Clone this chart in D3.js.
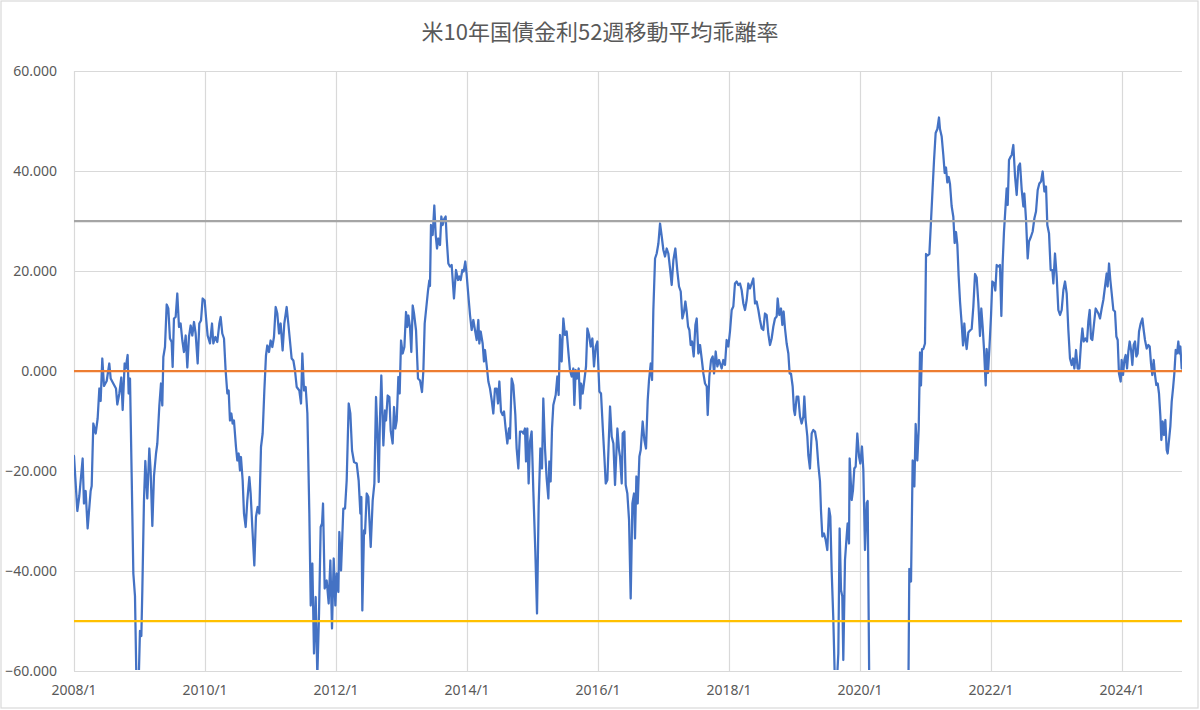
<!DOCTYPE html>
<html>
<head>
<meta charset="utf-8">
<script src="https://cdn.jsdelivr.net/npm/d3@7"></script>
<style>
  html, body { margin: 0; padding: 0; background: #fff; }
  svg { display: block; font-family: "Noto Sans", "Noto Sans CJK JP", sans-serif; }
</style>
</head>
<body>
<svg id="chart" width="1200" height="710"></svg>
<script>
// 米10年国債金利 52週移動平均乖離率 (weekly)
// dates = decimal years, deviation = % from 52-week moving average
var dates = [
  2008.000,2008.051,2008.081,2008.132,2008.152,2008.178,2008.208,2008.254,2008.270,2008.295,
  2008.331,2008.361,2008.387,2008.407,2008.432,2008.458,2008.499,2008.539,2008.560,2008.600,
  2008.641,2008.661,2008.692,2008.722,2008.743,2008.773,2008.789,2008.819,2008.834,2008.855,
  2008.880,2008.906,2008.931,2008.957,2008.982,2009.007,2009.028,2009.043,2009.068,2009.089,
  2009.119,2009.150,2009.170,2009.196,2009.221,2009.252,2009.272,2009.303,2009.328,2009.348,
  2009.364,2009.389,2009.415,2009.440,2009.465,2009.491,2009.506,2009.526,2009.552,2009.577,
  2009.603,2009.628,2009.654,2009.679,2009.705,2009.730,2009.755,2009.781,2009.806,2009.832,
  2009.857,2009.888,2009.913,2009.939,2009.964,2009.995,
  2010.015,2010.040,2010.076,2010.107,2010.127,2010.158,2010.188,2010.219,2010.239,2010.264,
  2010.290,2010.315,2010.341,2010.361,2010.381,2010.402,2010.422,2010.442,2010.473,2010.493,
  2010.514,2010.534,2010.549,2010.575,2010.595,2010.621,2010.646,2010.677,2010.697,2010.722,
  2010.753,2010.778,2010.804,2010.829,2010.855,2010.880,2010.906,2010.931,2010.951,2010.977,
  2011.002,2011.028,2011.053,2011.079,2011.104,2011.130,2011.155,2011.185,2011.211,2011.247,
  2011.272,2011.323,2011.349,2011.374,2011.400,2011.440,2011.466,2011.486,2011.512,2011.537,
  2011.563,2011.593,2011.614,2011.639,2011.664,2011.690,2011.715,2011.741,2011.766,2011.787,
  2011.802,2011.827,2011.858,2011.888,2011.914,2011.939,2011.965,2011.990,
  2012.011,2012.036,2012.051,2012.077,2012.112,2012.138,2012.163,2012.194,2012.219,2012.245,
  2012.275,2012.316,2012.346,2012.372,2012.387,2012.402,2012.428,2012.443,2012.469,2012.494,
  2012.530,2012.560,2012.586,2012.611,2012.631,2012.652,2012.672,2012.692,2012.723,2012.748,
  2012.764,2012.789,2012.815,2012.835,2012.865,2012.886,2012.906,2012.927,2012.952,2012.972,
  2012.993,2013.018,2013.044,2013.069,2013.089,2013.105,2013.130,2013.150,2013.171,2013.191,
  2013.222,2013.252,2013.283,2013.313,2013.334,2013.354,2013.374,2013.405,2013.425,2013.435,
  2013.450,2013.476,2013.501,2013.522,2013.542,2013.562,2013.588,2013.608,2013.628,2013.654,
  2013.674,2013.690,2013.715,2013.740,2013.766,2013.801,2013.832,2013.863,2013.883,2013.903,
  2013.929,2013.949,2013.974,2013.995,
  2014.020,2014.046,2014.071,2014.097,2014.122,2014.148,2014.173,2014.188,2014.209,2014.239,
  2014.259,2014.275,2014.300,2014.326,2014.351,2014.377,2014.402,2014.427,2014.453,2014.473,
  2014.494,2014.519,2014.544,2014.565,2014.590,2014.616,2014.641,2014.656,2014.682,2014.707,
  2014.738,2014.758,2014.784,2014.809,2014.840,2014.860,2014.885,2014.901,2014.921,2014.941,
  2014.962,2014.987,2015.013,2015.043,2015.069,2015.094,2015.120,2015.145,2015.165,2015.191,
  2015.216,2015.242,2015.257,2015.277,2015.298,2015.318,2015.354,2015.379,2015.399,2015.420,
  2015.445,2015.471,2015.496,2015.522,2015.547,2015.572,2015.598,2015.623,2015.639,2015.659,
  2015.679,2015.705,2015.730,2015.741,2015.766,2015.792,2015.817,2015.838,2015.863,2015.889,
  2015.914,2015.939,2015.965,2015.990,
  2016.021,2016.046,2016.072,2016.097,2016.118,2016.143,2016.163,2016.184,2016.209,2016.235,
  2016.260,2016.296,2016.321,2016.336,2016.362,2016.377,2016.403,2016.423,2016.448,2016.474,
  2016.499,2016.525,2016.550,2016.565,2016.586,2016.606,2016.632,2016.652,2016.682,2016.708,
  2016.733,2016.759,2016.779,2016.805,2016.825,2016.845,2016.871,2016.896,2016.922,2016.947,
  2016.973,2016.998,2017.023,2017.049,2017.074,2017.100,2017.125,2017.151,2017.181,2017.212,
  2017.237,2017.263,2017.288,2017.314,2017.334,2017.354,2017.375,2017.395,2017.415,2017.436,
  2017.461,2017.487,2017.507,2017.532,2017.558,2017.583,2017.609,2017.634,2017.660,2017.675,
  2017.700,2017.726,2017.751,2017.772,2017.797,2017.822,2017.848,2017.888,2017.913,2017.939,
  2017.964,2017.990,
  2018.015,2018.041,2018.066,2018.091,2018.117,2018.142,2018.168,2018.193,2018.219,2018.244,
  2018.270,2018.295,2018.320,2018.346,2018.371,2018.397,2018.422,2018.448,2018.473,2018.499,
  2018.524,2018.549,2018.575,2018.600,2018.626,2018.651,2018.677,2018.702,2018.728,2018.743,
  2018.768,2018.794,2018.814,2018.834,2018.855,2018.880,2018.906,2018.926,2018.946,2018.972,
  2018.992,2019.007,2019.033,2019.058,2019.084,2019.109,2019.135,2019.150,2019.170,2019.196,
  2019.211,2019.236,2019.262,2019.287,2019.313,2019.338,2019.364,2019.389,2019.404,2019.425,
  2019.450,2019.476,2019.501,2019.527,2019.547,2019.567,2019.593,2019.618,2019.644,2019.669,
  2019.689,2019.710,2019.730,2019.745,2019.771,2019.796,2019.811,2019.832,2019.842,2019.873,
  2019.893,2019.913,2019.934,2019.959,2019.985,
  2020.005,2020.030,2020.051,2020.076,2020.102,2020.117,2020.143,2020.300,2020.550,2020.738,
  2020.753,2020.779,2020.804,2020.830,2020.850,2020.875,2020.896,2020.916,2020.931,2020.947,
  2020.967,2020.992,2021.008,2021.033,2021.059,2021.084,2021.109,2021.130,2021.155,2021.181,
  2021.206,2021.221,2021.247,2021.272,2021.293,2021.313,2021.333,2021.354,2021.374,2021.399,
  2021.425,2021.445,2021.466,2021.486,2021.506,2021.527,2021.552,2021.573,2021.593,2021.613,
  2021.629,2021.654,2021.679,2021.705,2021.730,2021.756,2021.781,2021.807,2021.832,2021.852,
  2021.873,2021.893,2021.919,2021.934,2021.954,2021.975,
  2022.000,2022.020,2022.046,2022.066,2022.087,2022.112,2022.137,2022.158,2022.178,2022.198,
  2022.239,2022.255,2022.275,2022.301,2022.316,2022.341,2022.367,2022.392,2022.418,2022.443,
  2022.469,2022.494,2022.509,2022.535,2022.560,2022.580,2022.611,2022.636,2022.662,2022.687,
  2022.713,2022.738,2022.764,2022.789,2022.815,2022.840,2022.860,2022.886,2022.911,2022.937,
  2022.952,2022.977,2023.003,2023.028,2023.054,2023.079,2023.105,2023.130,2023.156,2023.181,
  2023.206,2023.232,2023.252,2023.273,2023.298,2023.323,2023.349,2023.374,2023.395,2023.415,
  2023.441,2023.466,2023.486,2023.507,2023.527,2023.547,2023.573,2023.598,2023.639,2023.664,
  2023.690,2023.715,2023.741,2023.766,2023.781,2023.802,2023.822,2023.843,2023.868,2023.893,
  2023.914,2023.934,2023.954,2023.980,2023.995,
  2024.016,2024.036,2024.056,2024.077,2024.097,2024.117,2024.138,2024.158,2024.178,2024.199,
  2024.219,2024.239,2024.260,2024.285,2024.311,2024.331,2024.351,2024.377,2024.402,2024.423,
  2024.443,2024.463,2024.484,2024.504,2024.524,2024.545,2024.565,2024.586,2024.601,2024.621,
  2024.641,2024.662,2024.682,2024.697,2024.718,2024.738,2024.759,2024.779,2024.799,2024.820,
  2024.840,2024.860,2024.876,2024.891,2024.911
];
var deviation = [
  -17,-28,-25,-17.5,-26.5,-24,-31.5,-24,-23,-10.5,
  -12.5,-9.5,-3.5,-6,2.5,-3,-2,1.5,-1.5,-2.5,
  -3.5,-6.7,-4.5,-1.3,-7.8,1.5,0.5,3.2,-4.5,-1.5,
  -20.5,-40.5,-45,-65,-65,-52,-53,-44,-26,-18,
  -25.5,-15.5,-20,-31,-21,-16.5,-14.5,-6.9,-2.5,-6.9,
  2.8,4.8,13.3,12.5,6.5,5.8,0.8,10.5,10.8,15.5,
  8.8,9.5,6.1,3.8,7.1,0.7,6.8,9.1,7.1,9.8,
  7.5,1.5,9.5,10.1,14.5,14.1,
  10.8,7.1,5.5,9.5,5.5,6.8,5.8,9.5,10.8,7.5,
  6.5,0.1,-4.5,-3.9,-9.9,-8.5,-10.5,-9.9,-15.2,-17.9,
  -16.5,-19.9,-17.2,-21.9,-28.5,-31.2,-25.9,-21.2,-24.5,-31.2,
  -38.9,-29.2,-27.2,-28.5,-15.2,-12.5,-3.9,3.1,5.1,3.8,
  6.1,4.8,6.8,12.8,11.5,7.5,9.5,4.1,9.5,12.8,
  9.5,2.5,2.1,0.1,-3.2,-3.9,-6.5,3.5,-3.9,-3.2,
  -8.5,-28.5,-46.9,-38.5,-56.5,-45.2,-61,-48.5,-31.2,-30.5,
  -26.5,-43.5,-41.9,-46.5,-37.9,-51.5,-37.5,-46.9,
  -40.5,-44.2,-32.2,-39.9,-27.5,-27.5,-21.9,-6.5,-8.5,-15.9,
  -18.2,-18.5,-21.9,-28.5,-25.2,-47.9,-31.9,-32.5,-24.5,-25.2,
  -35.2,-25.9,-22.5,-5.2,-11.9,-22.2,-9.2,-0.9,-14.9,-7.9,
  -9.9,-4.9,-5.2,-11.9,-14.5,-7.2,-11.5,-9.9,-1.2,-4.5,
  6.1,3.5,4.8,11.8,8.8,11.1,8.8,3.8,13.1,11.5,
  8.1,-1.5,-1.9,-4.2,0.1,9.5,12.1,16.1,18.1,17,
  29.2,27.2,33.1,27.2,24.5,26.5,25.2,30.9,29.2,30.5,
  30.9,26.5,21.5,20.9,21.2,14.5,20.2,18.2,18.9,18.2,
  20.2,19.9,21.9,19.2,
  15.2,11.2,8.2,10.2,8.2,6.2,10.2,5.5,7.9,5.5,
  1.9,4.2,1.2,-2.1,-3.5,-5.8,-8.5,-3.5,-3.5,-6.5,
  -2.1,-8.1,-8.8,-8.1,-11.5,-14.5,-11.5,-13.5,-1.5,-2.8,
  -8.8,-15.5,-19.5,-12.1,-12.1,-12.5,-11.5,-18.1,-11.5,-22.5,
  -14.1,-12.1,-24.1,-36.1,-48.5,-26.8,-15.5,-19.5,-5.5,-15.5,
  -21.5,-25.5,-18.1,-22.1,-11.5,-6.8,-4.8,-1.1,-4.8,7.2,
  1.9,10.5,7.2,7.9,3.9,0.2,-1.1,0.5,-6.8,0.2,
  -1.5,0.5,-7.5,-2.5,-4.5,-1.8,0.9,8.5,7.2,4.9,
  6.5,0.9,4.9,5.9,
  -4.1,-4.5,-11.1,-17.1,-22.5,-21.8,-14.5,-7.1,-13.1,-14.5,
  -22.8,-11.5,-15.8,-17.1,-22.5,-12.5,-12.1,-22.8,-24.5,-29.8,
  -45.5,-26.5,-24.5,-33.5,-21.1,-26.5,-17.1,-15.8,-10.1,-13.8,
  -15.5,-5.8,-1.8,1.5,-1.8,12.2,22.5,23.5,25.5,29.5,
  26.9,24.2,22.9,24.5,23.5,20.5,17.2,22.2,24.5,19.9,
  16.9,15.9,10.5,11.9,13.9,11.9,8.9,8.2,5.2,5.9,
  2.9,9.2,10.5,3.5,5.2,2.5,-0.5,-2.5,-3.1,-8.8,
  -1.1,2.2,2.9,-0.5,3.9,0.9,2.2,0.5,2.2,1.2,
  6.2,4.9,
  7.9,12.2,12.9,17.5,17.9,17.2,17.5,16.2,13.5,12.2,
  14.2,17.5,16.5,17.5,18.5,13.5,13.9,12.2,10.2,8.5,
  8.2,11.5,11.2,7.5,5.2,6.5,8.9,10.5,10.9,14.5,
  11.2,12.5,9.2,11.9,8.5,5.5,3.5,-0.5,-0.5,-3.1,
  -7.8,-8.8,-5.1,-5.1,-9.1,-10.5,-9.1,-5.1,-9.8,-13.1,
  -16.8,-19.5,-12.5,-11.8,-12.1,-14.1,-18.8,-22.1,-27.8,-33.1,
  -32.5,-33.8,-35.8,-27.5,-29.1,-39.8,-49.8,-63,-63,-56.5,
  -31.5,-43.8,-45.1,-57.8,-37.8,-33.1,-30.5,-34.5,-17.5,-25.8,
  -23.8,-19.5,-19.1,-12.5,-17.1,
  -18.5,-15.1,-19.8,-35.8,-26.4,-26,-65,-72,-70,-65,
  -39.6,-42.1,-17.9,-23.1,-10.6,-17.9,-11.7,3.7,-2.9,4.4,
  4.4,5.5,23.4,23.1,23.4,30,36.6,42.1,47.6,48.4,
  50.7,48.4,46.9,43.2,39.6,40.7,37.7,38.8,37.4,33,
  30.8,25.6,27.8,25.3,19,13.9,9.5,5.1,9.5,5.9,
  4.4,7.7,8.1,8.4,12.8,19.4,18.7,13.6,7,12.5,
  8.8,4.4,-2.9,4.4,-0.4,4.4,
  11,17.9,17.6,16.1,21.2,20.9,21.2,11,21.6,27.8,
  36.5,33.2,42.2,42.9,43.2,45.2,38.9,35.2,40.9,41.5,
  36.2,32.9,35.5,30.2,22.5,25.9,26.9,27.9,30.5,31.9,
  36.2,37.5,37.9,39.9,35.9,36.9,29.2,27.5,20.2,20.2,
  17.5,23.5,18.9,12.2,11.2,12.2,16.2,17.9,15.5,8.2,
  2.5,1.2,2.5,0.5,4.2,0.5,0.5,5.5,8.5,5.9,
  6.5,5.9,9.9,12.2,6.5,6.2,9.5,12.5,11.5,10.5,
  12.5,14.2,16.9,19.5,16.9,21.5,18.2,15.5,12.2,11.9,
  6.9,6.2,-0.5,-2.1,2.2,
  -0.8,2.2,3.2,0.5,3.9,5.9,4.2,1.2,5.2,5.9,
  2.9,3.5,7.9,9.5,10.5,8.2,6.2,4.5,5.2,4.9,
  1.5,-0.8,2.2,-0.8,-2.8,-2.5,-4.5,-9.1,-13.8,-10.1,
  -12.8,-9.8,-15.8,-16.5,-13.8,-11.1,-6.1,-3.5,-0.5,4.2,
  3.5,5.9,3.5,4.9,0.5
];

var yTicks = [60, 40, 20, 0, -20, -40, -60];
var xTicks = [2008, 2010, 2012, 2014, 2016, 2018, 2020, 2022, 2024];
var xTickLabels = ["2008/1", "2010/1", "2012/1", "2014/1", "2016/1", "2018/1", "2020/1", "2022/1", "2024/1"];
var refValues = [30, 0, -50];
var refColors = ["#a5a5a5", "#ed7d31", "#ffc000"];
var title = "米10年国債金利52週移動平均乖離率";

(function() {
  var svg = d3.select("#chart");
  var plotLeft = 74, plotRight = 1182, plotTop = 71, plotBottom = 671;

  var x = d3.scaleLinear().domain([2008, 2008 + (plotRight - plotLeft) / 65.5]).range([plotLeft, plotRight]);
  var y = d3.scaleLinear().domain([-60, 60]).range([plotBottom, plotTop]);

  // chart area border
  svg.append("rect")
    .attr("x", 1).attr("y", 1).attr("width", 1197).attr("height", 707)
    .attr("fill", "#fff").attr("stroke", "#d9d9d9").attr("stroke-width", 1.2);

  // title
  svg.append("text")
    .attr("x", 600).attr("y", 40)
    .attr("text-anchor", "middle")
    .style("font-family", "'Noto Sans CJK JP', sans-serif")
    .style("font-size", "22px")
    .style("fill", "#595959")
    .text(title);

  // horizontal gridlines
  svg.append("g").selectAll("line")
    .data(yTicks)
    .enter()
    .append("line")
    .attr("x1", plotLeft).attr("x2", plotRight)
    .attr("y1", function(d) { return Math.round(y(d)) + 0.5; })
    .attr("y2", function(d) { return Math.round(y(d)) + 0.5; })
    .style("stroke", "#d9d9d9")
    .style("stroke-width", "1.2px");

  // vertical gridlines
  svg.append("g").selectAll("line")
    .data(xTicks)
    .enter()
    .append("line")
    .attr("x1", function(d) { return Math.round(x(d)) + 0.5; })
    .attr("x2", function(d) { return Math.round(x(d)) + 0.5; })
    .attr("y1", plotTop).attr("y2", plotBottom)
    .style("stroke", "#d9d9d9")
    .style("stroke-width", "1.2px");

  // y labels
  svg.append("g").selectAll("text")
    .data(yTicks)
    .enter()
    .append("text")
    .attr("x", 57)
    .attr("y", function(d) { return y(d) + 5; })
    .attr("text-anchor", "end")
    .style("font-size", "14px")
    .style("fill", "#595959")
    .text(function(d) { return d3.format(".3f")(d); });

  // x labels
  svg.append("g").selectAll("text")
    .data(xTicks)
    .enter()
    .append("text")
    .attr("x", function(d) { return x(d); })
    .attr("y", 695)
    .attr("text-anchor", "middle")
    .style("font-size", "14px")
    .style("fill", "#595959")
    .text(function(d, i) { return xTickLabels[i]; });

  svg.append("clipPath").attr("id", "plot-clip")
    .append("rect")
    .attr("x", plotLeft).attr("y", plotTop - 2)
    .attr("width", plotRight - plotLeft).attr("height", plotBottom - plotTop + 1);

  var points = dates.map(function(d, i) { return [d, deviation[i]]; });

  var line = d3.line()
    .x(function(d) { return x(d[0]); })
    .y(function(d) { return y(d[1]); });

  svg.append("path")
    .datum(points)
    .attr("clip-path", "url(#plot-clip)")
    .attr("d", line)
    .style("fill", "none")
    .style("stroke", "#4472c4")
    .style("stroke-width", "2.25px")
    .style("stroke-linejoin", "round")
    .style("stroke-linecap", "round");

  // reference lines 30 / 0 / -50
  svg.append("g").selectAll("line")
    .data(refValues)
    .enter()
    .append("line")
    .attr("x1", plotLeft).attr("x2", plotRight)
    .attr("y1", function(d) { return y(d); })
    .attr("y2", function(d) { return y(d); })
    .style("stroke", function(d, i) { return refColors[i]; })
    .style("stroke-width", "2.25px");
})();
</script>
</body>
</html>
